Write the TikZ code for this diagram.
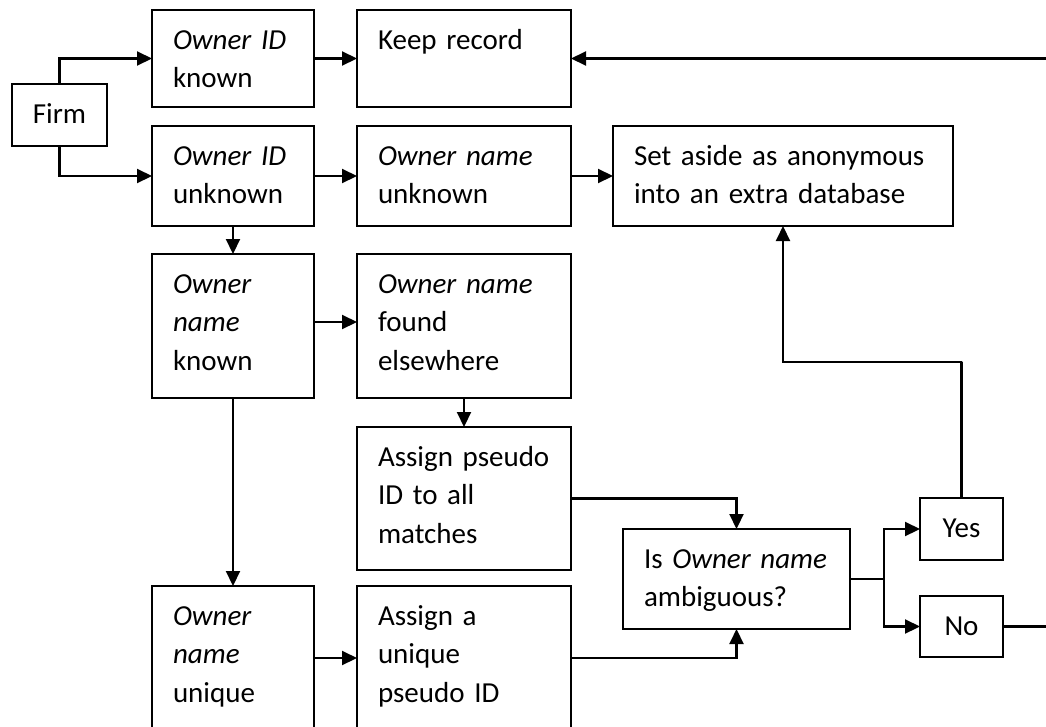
\documentclass[tikz,border=0pt]{standalone}
\usepackage{fontspec}
\setmainfont{Carlito}
\usetikzlibrary{arrows.meta}
\newcommand\boxfont{\fontsize{29}{38.5}\selectfont\spaceskip=4.8pt plus 1pt minus 1pt\relax}
\tikzset{
  blk/.style={draw, line width=2pt, outer sep=0pt, anchor=north west, inner xsep=21pt,
    inner ysep=0pt, align=left, text height=39pt, font=\boxfont},
  tag/.style={blk, align=center, inner xsep=11.5pt, text width=60pt},
  flow/.style={line width=2.1pt, -{Triangle[length=15pt,width=14pt]}},
}
\begin{document}
\begin{tikzpicture}[x=1pt, y=-1pt]
\useasboundingbox (0,0) rectangle (1046,726);
\clip (0,0) rectangle (1046,726);

\node[blk, align=center, inner xsep=10pt, text width=75pt, text depth=23pt] (firm) at (12,84) {Firm};
\node[blk, text width=120pt, text depth=58pt] (idknown) at (152,10) {\textit{Owner ID}\\known};
\node[blk, text width=172pt, text depth=58pt] (keep) at (357,10) {Keep record};
\node[blk, text width=120pt, text depth=61pt] (idunknown) at (152,126) {\textit{Owner ID}\\unknown};
\node[blk, text width=172pt, text depth=61pt] (nameunknown) at (357,126) {\textit{Owner name}\\unknown};
\node[blk, text width=298pt, text depth=61pt] (setaside) at (613,126) {Set aside as anonymous\\into an extra database};
\node[blk, text width=120pt, text depth=105pt] (namekn) at (152,254) {\textit{Owner}\\\textit{name}\\known};
\node[blk, text width=172pt, text depth=105pt] (found) at (357,254) {\textit{Owner name}\\found\\elsewhere};
\node[blk, text width=172pt, text depth=104pt] (pseudo) at (357,427) {Assign pseudo\\ID to all\\matches};
\node[blk, text width=185pt, text depth=61pt] (isamb) at (623,529) {Is \textit{Owner name}\\ambiguous?};
\node[tag, text depth=23pt] (yes) at (920,498) {Yes};
\node[tag, text depth=22pt] (no) at (920,596) {No};
\node[blk, text width=120pt, text depth=105pt] (nameuniq) at (152,586) {\textit{Owner}\\\textit{name}\\unique};
\node[blk, text width=172pt, text depth=105pt] (assignuniq) at (357,586) {Assign a\\unique\\pseudo ID};

\coordinate (fork) at (884,579);
\coordinate (turn) at (962,362);
\coordinate (rim) at (1060,0);

\draw[flow] (firm.north) |- (idknown.west);
\draw[flow] (firm.south) |- (idunknown.west);
\draw[flow] (idknown.east) -- (keep.west);
\draw[flow] (idunknown.east) -- (nameunknown.west);
\draw[flow] (nameunknown.east) -- (setaside.west);
\draw[flow] (idunknown.south) -- (namekn.north);
\draw[flow] ([yshift=4pt]namekn.east) -- ([yshift=4pt]found.west);
\draw[flow] (found.south) -- (pseudo.north);
\draw[flow] (pseudo.east) -| (isamb.north);
\draw[flow] (namekn.south) -- (nameuniq.north);
\draw[flow] (nameuniq.east) -- (assignuniq.west);
\draw[flow] (assignuniq.east) -| (isamb.south);
\draw[line width=2.1pt] (isamb.east) -- (fork);
\draw[flow] (fork) |- (yes.west);
\draw[flow] (fork) |- (no.west);
\draw[flow] (yes.north) |- (turn) -| (setaside.south);
\draw[flow] (no.east) -- (no.east -| rim) -- (keep.east -| rim) -- (keep.east);
\end{tikzpicture}
\end{document}
